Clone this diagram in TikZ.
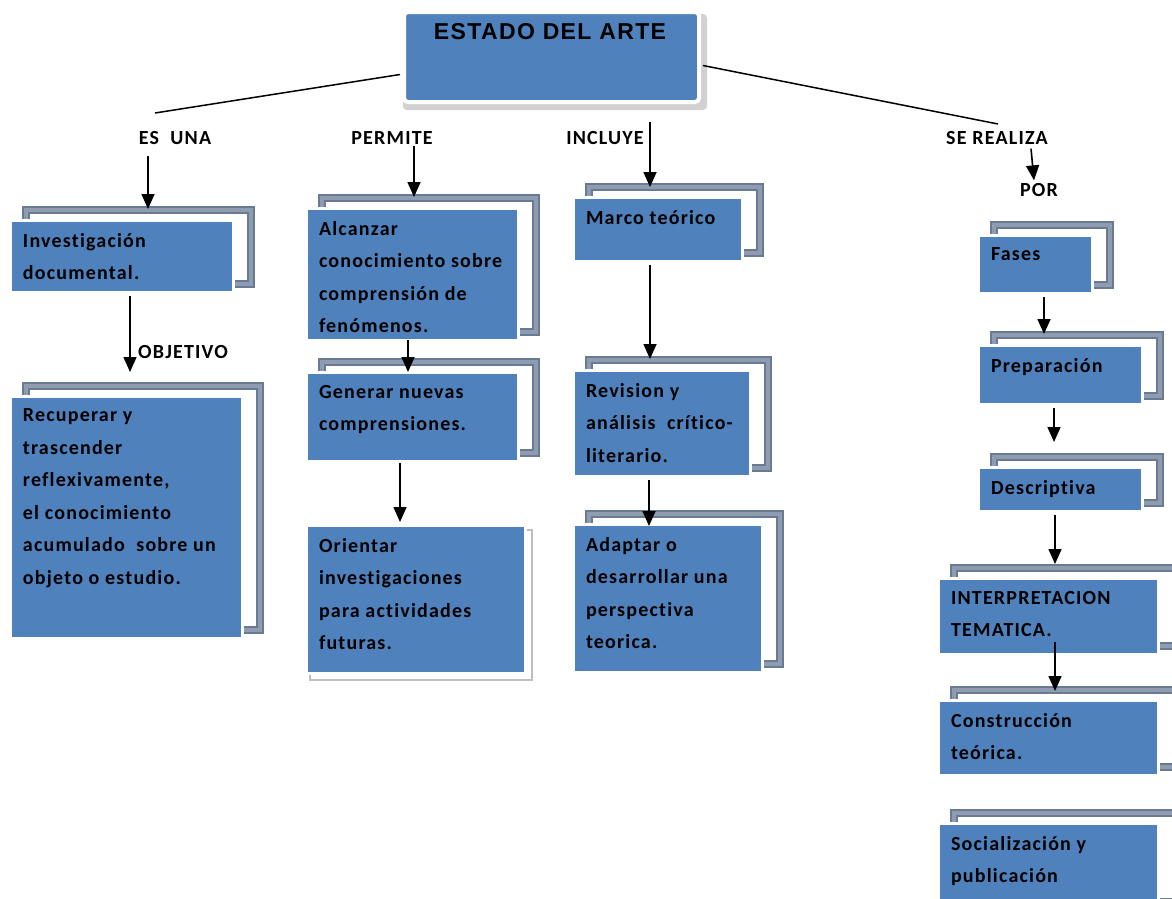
\documentclass[tikz,border=0pt]{standalone}
\usepackage{fontspec}
\usetikzlibrary{arrows.meta,calc}
\newfontfamily\bxfont[LetterSpace=6,Ligatures={NoCommon,NoContextual}]{Carlito}
\newfontfamily\ttlfont[LetterSpace=6]{Liberation Sans}
\definecolor{boxblue}{HTML}{4F81BD}
\definecolor{frameDark}{HTML}{6A7A92}
\definecolor{frameLight}{HTML}{8D9CB1}
\tikzset{
  frm/.style={draw=frameDark, line width=8pt, postaction={draw=frameLight, line width=4pt},
              inner sep=0pt, outer sep=4pt, anchor=north west},
  bb/.style={fill=boxblue, draw=white, line width=3pt, inner sep=0pt, outer sep=0pt, anchor=north west},
  txt/.style={align=left, inner sep=0pt, outer sep=0pt, anchor=north west,
              font=\bxfont\bfseries\fontsize{20}{32.5}\selectfont, text=black},
  lbl/.style={inner sep=0pt, outer sep=0pt, font=\bxfont\bfseries\fontsize{20}{22}\selectfont},
  arr/.style={-{Triangle[width=13pt,length=15pt]}, line width=1.6pt},
  link/.style={line width=1.5pt},
}
\newcommand\cmbox[6]{%
  \node[frm, minimum width={(#4-#2+2)*1pt}, minimum height={(#5-#3+2)*1pt}] (#1f) at ({#2+12},{#3-14}) {};
  \node[bb, minimum width={(#4-#2)*1pt}, minimum height={(#5-#3)*1pt}] (#1) at (#2,#3) {};
  \node[txt] (#1t) at ({#2+13},{#3+13}) {#6};
}
\begin{document}
\begin{tikzpicture}[x=1pt,y=-1pt]
\useasboundingbox (0,0) rectangle (1172,898);
\fill[white] (0,0) rectangle (1172,898);

% title
\node[fill=black!18, rounded corners=4pt, inner sep=0pt, outer sep=0pt, anchor=north west,
      minimum width=304pt, minimum height=96pt] (tsh) at (403,14) {};
\node[bb, line width=4pt, rounded corners=4pt, minimum width=295pt, minimum height=90pt] (title) at (404,12) {};
\node[inner sep=0pt, anchor=base, font=\ttlfont\bfseries\fontsize{23}{26}\selectfont] (titlet) at (550,39) {ESTADO DEL ARTE};

% labels
\node[lbl] (esuna) at (175,138) {ES~ UNA};
\node[lbl] (permite) at (392,138) {PERMITE};
\node[lbl] (incluye) at (605,138) {INCLUYE};
\node[lbl] (serealiza) at (997,138) {SE REALIZA};
\node[lbl] (por) at (1039,190) {POR};
\node[lbl] (objetivo) at (183,352) {OBJETIVO};

% links from title
\coordinate (lend) at (155,113);
\coordinate (rend) at (998,124);
\draw[link] ([xshift=-4pt,yshift=-17.5pt]title.west) -- (lend);
\draw[link] ([xshift=4pt,yshift=-8.5pt]title.east) -- (rend);

% boxes
\cmbox{inv}{10}{220}{233}{292}{Investigación\\documental.}
\cmbox{rec}{10}{396}{242}{638}{Recuperar y\\trascender\\reflexivamente,\\el conocimiento\\acumulado~ sobre un\\objeto o estudio.}
\cmbox{alc}{306}{208}{518}{340}{Alcanzar\\conocimiento sobre\\comprensión de\\fenómenos.}
\cmbox{gen}{306}{372}{518}{461}{Generar nuevas\\comprensiones.}
\node[draw=black!25, line width=1.5pt, inner sep=0pt, outer sep=0pt, anchor=north west,
      minimum width=222pt, minimum height=150pt] (orish) at (310,530) {};
\node[bb, minimum width=219pt, minimum height=148pt] (ori) at (306,525) {};
\node[txt] (orit) at (319,538) {Orientar\\investigaciones\\para actividades\\futuras.};
\cmbox{mar}{573}{197}{742}{261}{Marco teórico}
\cmbox{rev}{573}{370}{750}{476}{Revision y\\análisis~ crítico-\\literario.}
\cmbox{ada}{573}{524}{762}{672}{Adaptar o\\desarrollar una\\perspectiva\\teorica.}
\cmbox{fas}{978}{235}{1092}{293}{Fases}
\cmbox{pre}{978}{345}{1142}{404}{Preparación}
\cmbox{des}{978}{467}{1142}{511}{Descriptiva}
\cmbox{int}{938}{578}{1158}{654}{INTERPRETACION\\TEMATICA.}
\cmbox{con}{938}{700}{1158}{775}{Construcción\\teórica.}
\cmbox{soc}{938}{823}{1158}{910}{Socialización y\\publicación}

% arrows
\coordinate (x1) at (148,0);
\coordinate (x2) at (130,0);
\coordinate (x3) at (414,0);
\coordinate (x4) at (408,0);
\coordinate (x5) at (400,0);
\coordinate (x6) at (650,0);
\coordinate (x7) at (650,0);
\coordinate (x8) at (649,0);
\coordinate (x10) at (1044,0);
\coordinate (x11) at (1054,0);
\coordinate (x12) at (1055,0);
\coordinate (x13) at (1055,0);
\draw[arr, shorten <=11pt, shorten >=-3pt] (x1 |- esuna.south) -- (x1 |- invf.north);
\draw[arr, shorten <=4pt, shorten >=10pt] (x2 |- inv.south) -- (x2 |- recf.north);
\draw[arr, shorten <=2pt, shorten >=-3pt] (x3 |- permite.south) -- (x3 |- alcf.north);
\draw[arr, shorten <=0pt, shorten >=-14pt] (x4 |- alc.south) -- (x4 |- genf.north);
\draw[arr, shorten <=2pt, shorten >=3pt] (x5 |- gen.south) -- (x5 |- ori.north);
\draw[arr, shorten <=-9pt, shorten >=-4pt] (x6 |- incluye.north) -- (x6 |- marf.north);
\draw[arr, shorten <=4pt, shorten >=-3pt] (x7 |- mar.south) -- (x7 |- revf.north);
\draw[arr, shorten <=4pt, shorten >=-16pt] (x8 |- rev.south) -- (x8 |- adaf.north);
\draw[arr] ([xshift=34pt,yshift=-4pt]serealiza.south) -- ([xshift=-5pt,yshift=3pt]por.north);
\draw[arr, shorten <=4pt, shorten >=-3pt] (x10 |- fas.south) -- (x10 |- pref.north);
\draw[arr, shorten <=4pt, shorten >=11pt] (x11 |- pre.south) -- (x11 |- desf.north);
\draw[arr, shorten <=4pt, shorten >=0pt] (x12 |- des.south) -- (x12 |- intf.north);
\draw[arr, shorten <=-12pt, shorten >=-5pt] (x13 |- int.south) -- (x13 |- conf.north);
\end{tikzpicture}
\end{document}
